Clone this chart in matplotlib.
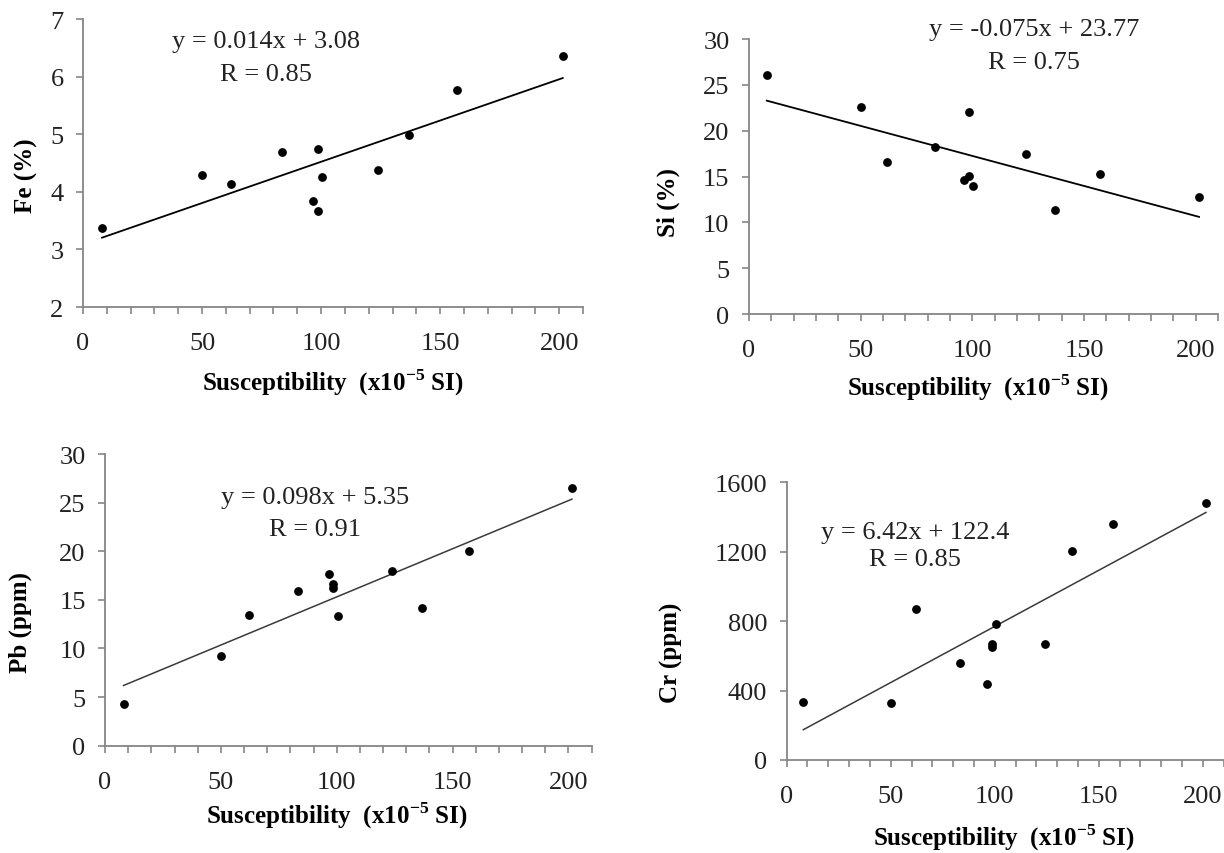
import matplotlib
matplotlib.use("Agg")
import matplotlib.pyplot as plt
import numpy as np
from matplotlib.ticker import MultipleLocator

plt.rcParams["font.family"] = ["Liberation Serif", "DejaVu Serif"]
plt.rcParams["mathtext.fontset"] = "custom"
plt.rcParams["mathtext.rm"] = "Liberation Serif"
plt.rcParams["mathtext.bf"] = "Liberation Serif:bold"

# magnetic susceptibility of the samples (x10^-5 SI)
susc = [8, 50, 62, 83.5, 96.5, 98.5, 98.5, 100.5, 124, 137, 157, 201.5]

fe = [3.37, 4.30, 4.13, 4.70, 3.84, 4.74, 3.67, 4.26, 4.38, 4.99, 5.77, 6.36]
si = [26.07, 22.55, 16.55, 18.18, 14.62, 15.09, 22.04, 14.0, 17.45, 11.38, 15.24, 12.73]
pb = [4.28, 9.21, 13.45, 15.93, 17.69, 16.59, 16.21, 13.34, 18.0, 14.14, 20.03, 26.48]
cr = [336, 328, 870, 561, 436, 668, 653, 785, 668, 1202, 1359, 1480]

ylabels = ["Fe (%)", "Si (%)", "Pb (ppm)", "Cr (ppm)"]
eq_texts = ["y = 0.014x + 3.08", "y = -0.075x + 23.77", "y = 0.098x + 5.35", "y = 6.42x + 122.4"]
r_texts = ["R = 0.85", "R = 0.75", "R = 0.91", "R = 0.85"]

xlabel = r"Susceptibility  (x10$^{\mathbf{-5}}$ SI)"

panels = [
    # data, ylim, ystep, axes rect, eq pos, R pos, ylabel pos, xlabel pos, line style
    (fe, (2, 7), 1, [0.0678, 0.6393, 0.4085, 0.3372], (0.366, 0.924), (0.366, 0.809),
     (-0.114, 0.46), (0.50, -0.26), ("black", 1.3)),
    (si, (0, 30), 5, [0.6119, 0.6311, 0.3832, 0.3220], (0.608, 1.036), (0.608, 0.916),
     (-0.173, 0.41), (0.488, -0.265), ("black", 1.3)),
    (pb, (0, 30), 5, [0.0858, 0.1256, 0.3975, 0.3416], (0.431, 0.853), (0.431, 0.743),
     (-0.175, 0.425), (0.477, -0.238), ("#3a3a3a", 1.1)),
    (cr, (0, 1600), 400, [0.6427, 0.1089, 0.3570, 0.3252], (0.293, 0.82), (0.293, 0.724),
     (-0.264, 0.39), (0.497, -0.277), ("#3a3a3a", 1.1)),
]

fig = plt.figure(figsize=(12.24, 8.54), dpi=100)

x = np.array(susc)
for i, (vals, ylim, ystep, rect, eqp, rp, ylp, xlp, (lc, lw)) in enumerate(panels):
    ax = fig.add_axes(rect)
    y = np.array(vals)
    ax.scatter(x, y, s=28, color="black", zorder=3)
    k, b = np.polyfit(x, y, 1)
    xx = np.array([x.min(), x.max()])
    ax.plot(xx, k * xx + b, color=lc, lw=lw)

    ax.set_xlim(0, 210)
    ax.set_ylim(*ylim)
    ax.xaxis.set_major_locator(MultipleLocator(50))
    ax.xaxis.set_minor_locator(MultipleLocator(10))
    ax.yaxis.set_major_locator(MultipleLocator(ystep))
    ax.set_xticks([0, 50, 100, 150, 200])

    for s in ["top", "right"]:
        ax.spines[s].set_visible(False)
    for s in ["left", "bottom"]:
        ax.spines[s].set_color("#868686")
        ax.spines[s].set_linewidth(1.3)
    ax.tick_params(axis="both", which="both", direction="out", color="#868686",
                   width=1.2, length=5, labelsize=19, labelcolor="#222222")
    ax.tick_params(axis="x", pad=13)
    ax.tick_params(axis="y", pad=9)

    ax.set_ylabel(ylabels[i], fontsize=18, fontweight="bold", va="center")
    ax.yaxis.set_label_coords(*ylp)
    ax.set_xlabel(xlabel, fontsize=18, fontweight="bold", va="center")
    ax.xaxis.set_label_coords(*xlp)

    ax.text(eqp[0], eqp[1], eq_texts[i], transform=ax.transAxes, ha="center",
            va="center", fontsize=19, color="#222222")
    ax.text(rp[0], rp[1], r_texts[i], transform=ax.transAxes, ha="center",
            va="center", fontsize=19, color="#222222")

fig.savefig("out.png", dpi=100)
